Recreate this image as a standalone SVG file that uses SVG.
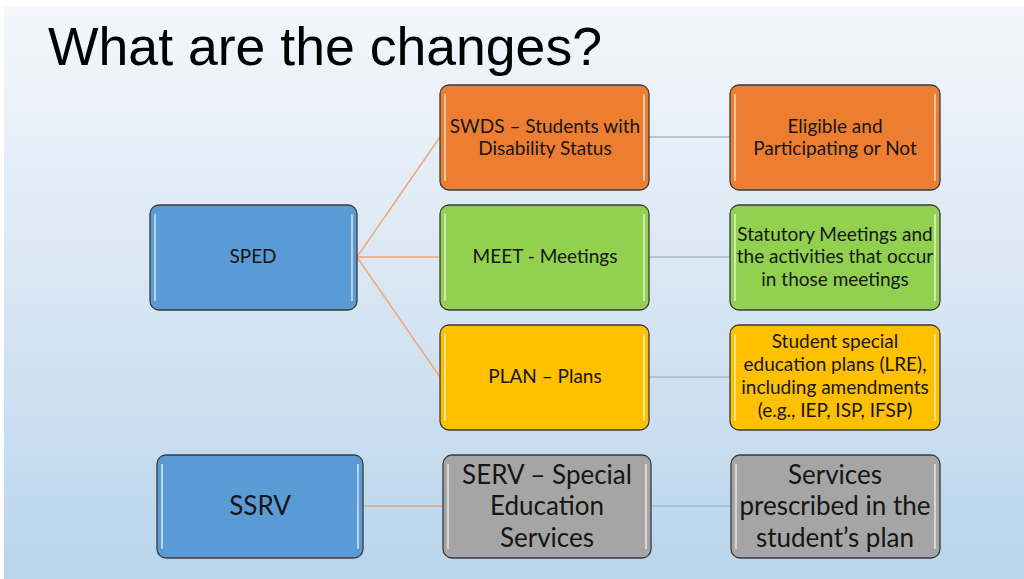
<svg xmlns="http://www.w3.org/2000/svg" width="1024" height="579" viewBox="0 0 1024 579">
<defs>
<linearGradient id="bg" x1="0" y1="0" x2="0" y2="1">
<stop offset="0" stop-color="#f4f7fb"/>
<stop offset="0.5" stop-color="#d8e6f3"/>
<stop offset="1" stop-color="#b9d5ec"/>
</linearGradient>
<style>
.box{stroke:#3a3a3a;stroke-width:1.3}
.hl{stroke:#ffffff;stroke-opacity:0.55;stroke-width:2;fill:none}
.t{font-family:Lato,"Liberation Sans",sans-serif;fill:#161616;text-anchor:middle}
.s{font-size:19px}
.b{font-size:26px}
.c{fill:none;stroke-width:1.5}
</style>
</defs>
<rect x="0" y="0" width="1024" height="579" fill="#ffffff"/>
<rect x="4" y="6" width="1020" height="573" fill="url(#bg)"/>
<text x="48" y="65" font-family="'Liberation Sans',Arial,sans-serif" font-size="54" fill="#000" textLength="554" lengthAdjust="spacingAndGlyphs">What are the changes?</text>

<g id="connectors">
<line class="c" x1="357" y1="257" x2="440" y2="137" stroke="#f1a878"/>
<line class="c" x1="357" y1="257" x2="440" y2="257" stroke="#f1a878"/>
<line class="c" x1="357" y1="257" x2="440" y2="377" stroke="#f1a878"/>
<line class="c" x1="649" y1="137" x2="730" y2="137" stroke="#a9b8c6"/>
<line class="c" x1="649" y1="257" x2="730" y2="257" stroke="#a9b8c6"/>
<line class="c" x1="649" y1="377" x2="730" y2="377" stroke="#a9b8c6"/>
<line class="c" x1="363" y1="506" x2="443" y2="506" stroke="#d5a98c" stroke-width="2"/>
<line class="c" x1="651" y1="506" x2="731" y2="506" stroke="#9fb9d6" stroke-width="2"/>
</g>

<g id="sped">
<rect class="box" x="150" y="205" width="207" height="105" rx="9" fill="#5b9bd5"/>
<line class="hl" x1="155" y1="214" x2="155" y2="301"/><line class="hl" x1="352" y1="214" x2="352" y2="301"/>
<text class="t s" x="253" y="263">SPED</text>
</g>
<g id="swds">
<rect class="box" x="440" y="85" width="209" height="105" rx="9" fill="#ed7d31"/>
<line class="hl" x1="445" y1="94" x2="445" y2="181"/><line class="hl" x1="644" y1="94" x2="644" y2="181"/>
<text class="t s" x="545" y="133">SWDS – Students with</text>
<text class="t s" x="545" y="155">Disability Status</text>
</g>
<g id="eligible">
<rect class="box" x="730" y="85" width="210" height="105" rx="9" fill="#ed7d31"/>
<line class="hl" x1="735" y1="94" x2="735" y2="181"/><line class="hl" x1="935" y1="94" x2="935" y2="181"/>
<text class="t s" x="835" y="133">Eligible and</text>
<text class="t s" x="835" y="155">Participating or Not</text>
</g>
<g id="meet">
<rect class="box" x="440" y="205" width="209" height="105" rx="9" fill="#92d050"/>
<line class="hl" x1="445" y1="214" x2="445" y2="301"/><line class="hl" x1="644" y1="214" x2="644" y2="301"/>
<text class="t s" x="545" y="263">MEET - Meetings</text>
</g>
<g id="statutory">
<rect class="box" x="730" y="205" width="210" height="105" rx="9" fill="#92d050"/>
<line class="hl" x1="735" y1="214" x2="735" y2="301"/><line class="hl" x1="935" y1="214" x2="935" y2="301"/>
<text class="t s" x="835" y="241">Statutory Meetings and</text>
<text class="t s" x="835" y="263">the activities that occur</text>
<text class="t s" x="835" y="286">in those meetings</text>
</g>
<g id="plan">
<rect class="box" x="440" y="325" width="209" height="105" rx="9" fill="#ffc000"/>
<line class="hl" x1="445" y1="334" x2="445" y2="421"/><line class="hl" x1="644" y1="334" x2="644" y2="421"/>
<text class="t s" x="545" y="383">PLAN – Plans</text>
</g>
<g id="student-plans">
<rect class="box" x="730" y="325" width="210" height="105" rx="9" fill="#ffc000"/>
<line class="hl" x1="735" y1="334" x2="735" y2="421"/><line class="hl" x1="935" y1="334" x2="935" y2="421"/>
<text class="t s" x="835" y="348">Student special</text>
<text class="t s" x="835" y="371">education plans (LRE),</text>
<text class="t s" x="835" y="394">including amendments</text>
<text class="t s" x="835" y="417">(e.g., IEP, ISP, IFSP)</text>
</g>
<g id="ssrv">
<rect class="box" x="157" y="455" width="206" height="103" rx="9" fill="#5b9bd5"/>
<line class="hl" x1="162" y1="464" x2="162" y2="549"/><line class="hl" x1="358" y1="464" x2="358" y2="549"/>
<text class="t b" x="260" y="515">SSRV</text>
</g>
<g id="serv">
<rect class="box" x="443" y="455" width="208" height="103" rx="9" fill="#a5a5a5"/>
<line class="hl" x1="448" y1="464" x2="448" y2="549"/><line class="hl" x1="646" y1="464" x2="646" y2="549"/>
<text class="t b" x="547" y="484">SERV – Special</text>
<text class="t b" x="547" y="515">Education</text>
<text class="t b" x="547" y="547">Services</text>
</g>
<g id="services">
<rect class="box" x="731" y="455" width="209" height="103" rx="9" fill="#a5a5a5"/>
<line class="hl" x1="736" y1="464" x2="736" y2="549"/><line class="hl" x1="935" y1="464" x2="935" y2="549"/>
<text class="t b" x="835" y="484">Services</text>
<text class="t b" x="835" y="515">prescribed in the</text>
<text class="t b" x="835" y="547">student’s plan</text>
</g>
</svg>
